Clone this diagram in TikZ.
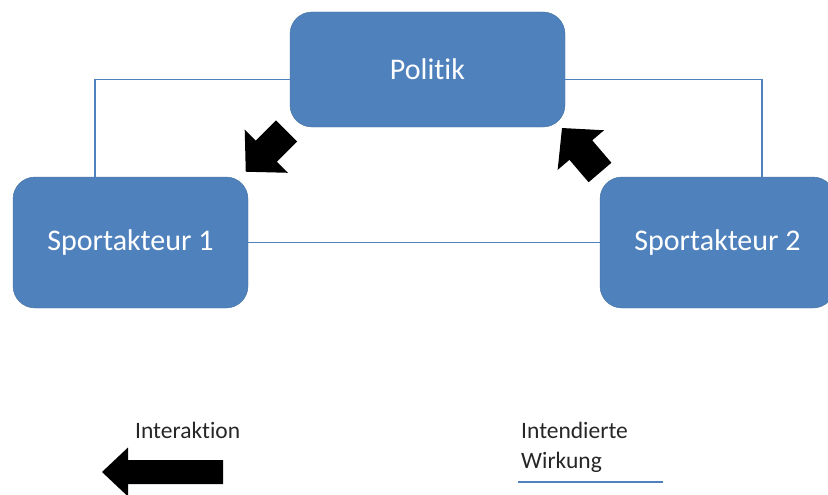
\documentclass[tikz,border=0pt]{standalone}
\usepackage{fontspec}
\setmainfont{Carlito}[Ligatures={NoCommon}]
\usepackage{tikz}
\usetikzlibrary{positioning}
\usetikzlibrary{calc}
\definecolor{boxblue}{HTML}{4F81BD}
\definecolor{boxrim}{HTML}{41719C}

\begin{document}
\begin{tikzpicture}[x=1pt, y=-1pt, actor/.style = {rectangle, rounded corners=22pt, draw=boxrim, fill=boxblue, text=white, font=\fontsize{30}{36}\selectfont, minimum height=131pt, minimum width=235pt, inner sep=0pt},link/.style = {draw=boxblue, line width=1.4pt}, legend/.style = {font=\fontsize{23.5}{30}\selectfont, text=black!85, inner sep=0pt, align=left}, pics/blockarrow/.style args = {#1/#2/#3/#4}{code = {\fill[black] (0,-#2) -- (#1-#3,-#2) -- (#1-#3,-#4) -- (#1,0) -- (#1-#3,#4) -- (#1-#3,#2) -- (0,#2) -- cycle;}}]
	\clip (0,0) rectangle (828,495);
	\node[actor, minimum width=275pt, minimum height=115pt] (politik) at (427.5,69.5) {Politik};
	\node[actor] (sport1) at (130.5,242.5) {Sportakteur 1};
	\node[actor] (sport2) at (717.5,242.5) {Sportakteur 2};
	\draw[link] ([yshift=-10pt]politik.west) -| ([xshift=-35.5pt]sport1.north);
	\draw[link] ([yshift=-10pt]politik.east) -| ([xshift=44.5pt]sport2.north);
	\draw[link] (sport1) -- (sport2);
	% interaction arrows
	\pic[rotate=225] at (286.5,131) {blockarrow={57.6/15/29/30.5}};
	\pic[rotate=130.5] at (600,172.5) {blockarrow={58.5/15/29/30.5}};
	% legend
	\node[legend, anchor=north west] (interaktion) at (135,422) {Interaktion};
	\pic[rotate=180] at (223,472) {blockarrow={121/12/26/24.5}};
	\node[legend, anchor=north west] (intendiert) at (521,422) {Intendierte\\Wirkung};
	\coordinate (wleft) at (518,482);
	\coordinate (wright) at (663,482);
	\draw[link] (wleft) -- (wright);
\end{tikzpicture}
\end{document}
